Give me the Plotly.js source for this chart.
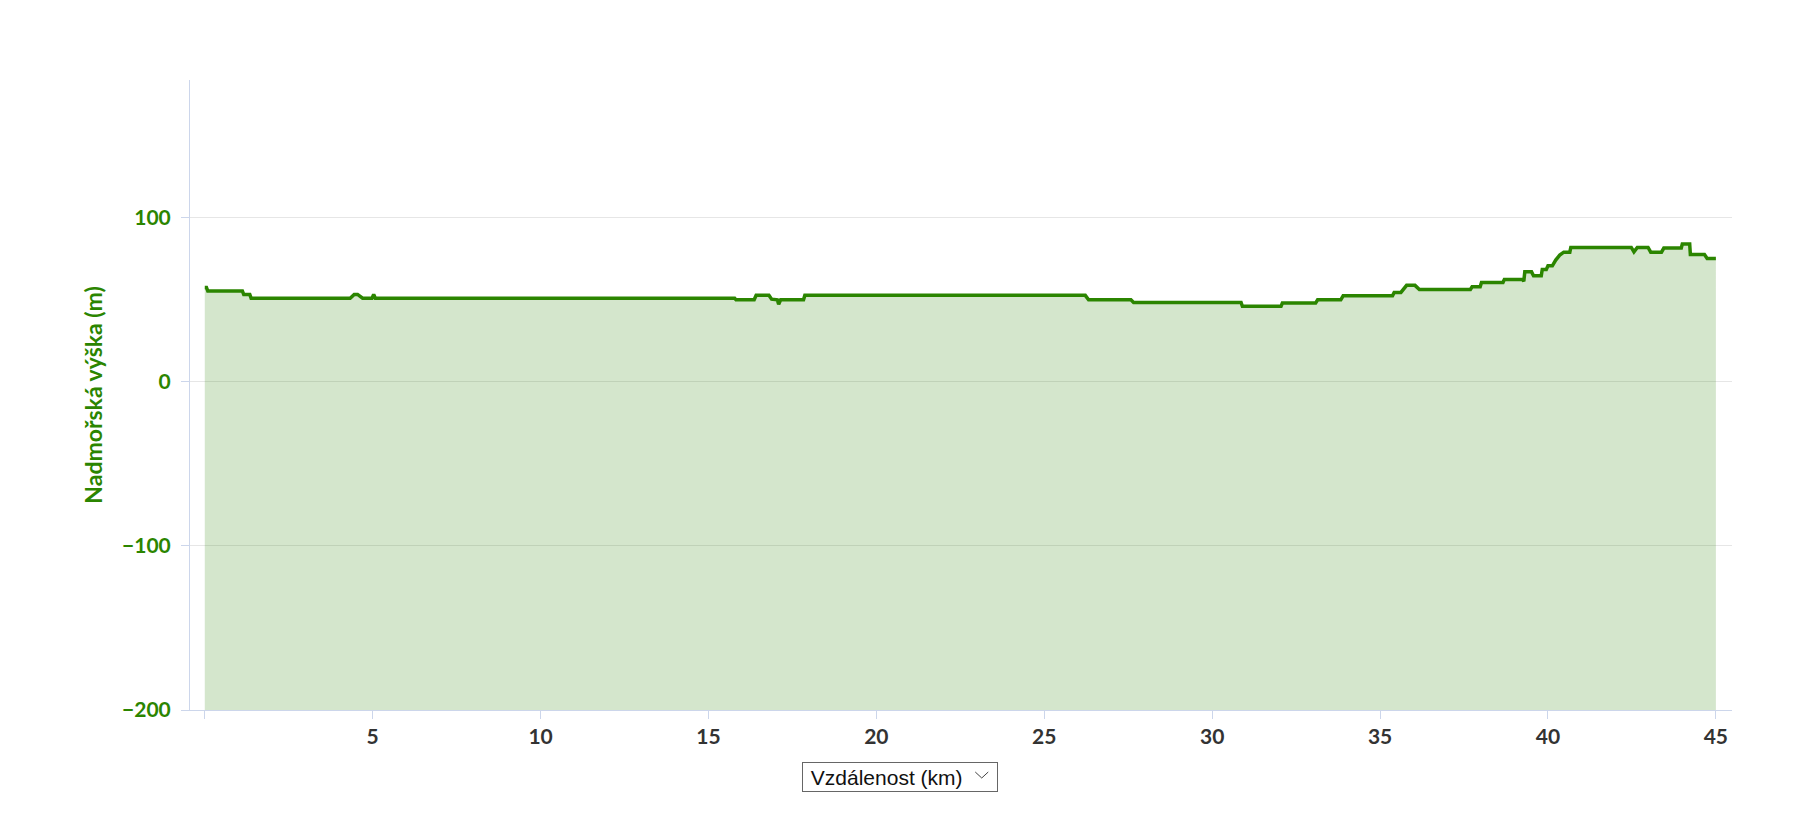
<!DOCTYPE html>
<html>
<head>
<meta charset="utf-8">
<script src="https://cdn.plot.ly/plotly-3.0.1.min.js"></script>
<style>
  body { margin: 0; background: #fff; }
  #plot { width: 1801px; height: 827px; }
</style>
</head>
<body>
<div id="plot"></div>
<script>
// vzdalenost (km) a nadmorska vyska (m) odectene z profilu
var distKm = [0.00, 0.05, 0.09, 1.12, 1.16, 1.34, 1.38, 4.33, 4.45, 4.55, 4.70, 4.98, 5.03, 5.08,
  15.78, 15.82, 16.36, 16.42, 16.80, 16.88, 17.05, 17.09, 17.15, 17.83, 17.87,
  26.22, 26.32, 27.58, 27.66, 30.86, 30.90, 32.05, 32.09, 33.08, 33.14, 33.83, 33.90,
  35.37, 35.42, 35.62, 35.79, 36.04, 36.17, 37.69, 37.74, 37.98, 38.02, 38.66, 38.70,
  39.24, 39.28, 39.31, 39.51, 39.57, 39.80, 39.83, 39.95, 40.00, 40.13, 40.23, 40.35,
  40.47, 40.65, 40.68, 42.48, 42.56, 42.66, 42.98, 43.06, 43.38, 43.45, 43.97, 44.00,
  44.22, 44.24, 44.66, 44.74, 45.00];
var elevM = [57.2, 57.2, 55.0, 55.0, 53.0, 53.0, 50.7, 50.7, 53.0, 53.0, 50.7, 50.7, 53.0, 50.7,
  50.7, 49.7, 49.7, 52.5, 52.5, 50.1, 49.7, 47.0, 49.7, 49.7, 52.4,
  52.4, 49.7, 49.7, 48.1, 48.1, 45.7, 45.7, 47.7, 47.7, 49.7, 49.7, 52.1,
  52.1, 54.2, 54.2, 58.5, 58.5, 56.0, 56.0, 57.6, 57.6, 60.3, 60.3, 62.1,
  62.1, 61.0, 66.7, 66.7, 64.3, 64.3, 68.2, 68.2, 70.4, 70.4, 73.9, 76.9,
  78.7, 78.7, 81.6, 81.6, 78.9, 81.6, 81.6, 78.7, 78.7, 81.2, 81.2, 83.6,
  83.6, 77.3, 77.3, 74.9, 74.9];

var yTicks = [-200, -100, 0, 100];
var xTicks = [0, 5, 10, 15, 20, 25, 30, 35, 40, 45];
var xTickText = ['', '5', '10', '15', '20', '25', '30', '35', '40', '45'];

var green = '#2b8500';
var axisBlue = '#ccd6eb';

// spodni hrana vyplne = spodek osy
var base = {
  x: [distKm[0], distKm[distKm.length - 1]],
  y: [yTicks[0], yTicks[0]],
  mode: 'lines',
  line: { width: 0 },
  hoverinfo: 'skip',
  showlegend: false
};

var profile = {
  x: distKm,
  y: elevM,
  mode: 'lines',
  fill: 'tonexty',
  fillcolor: 'rgba(40,130,0,0.2)',
  line: { color: green, width: 3.5 },
  showlegend: false
};

var layout = {
  width: 1801,
  height: 827,
  margin: { l: 190, r: 69, t: 80, b: 117 },
  paper_bgcolor: '#fff',
  plot_bgcolor: '#fff',
  font: { family: 'Lato, sans-serif' },
  xaxis: {
    range: [-0.44, 45.48],
    tickvals: xTicks,
    ticktext: xTickText,
    showgrid: false,
    zeroline: false,
    showline: true,
    linecolor: axisBlue,
    linewidth: 1,
    ticks: 'outside',
    ticklen: 8,
    tickcolor: axisBlue,
    tickfont: { family: 'Lato, sans-serif', size: 21, color: '#333', weight: 'bold' }
  },
  yaxis: {
    range: [-200, 183.5],
    tickvals: yTicks,
    showgrid: true,
    gridcolor: '#e6e6e6',
    zeroline: false,
    showline: true,
    linecolor: axisBlue,
    linewidth: 1,
    ticks: 'outside',
    ticklen: 8,
    tickcolor: axisBlue,
    ticklabelstandoff: 6,
    tickfont: { family: 'Lato, sans-serif', size: 21, color: green, weight: 'bold' },
    title: {
      text: 'Nadmořská výška (m)',
      standoff: 13,
      font: { family: 'Lato, sans-serif', size: 23, color: green, weight: 'bold' }
    }
  },
  annotations: [{
    xref: 'paper', yref: 'paper',
    x: 0.4606, y: -0.1063,
    xanchor: 'center', yanchor: 'middle',
    showarrow: false,
    text: '&nbsp;Vzdálenost (km)',
    align: 'left',
    width: 190,
    height: 24,
    font: { family: 'Liberation Sans, Arial, sans-serif', size: 21, color: '#111' },
    bgcolor: 'rgba(0,0,0,0)',
    bordercolor: '#666',
    borderwidth: 1,
    borderpad: 2
  }],
  // sipka rozbalovaciho menu
  shapes: [{
    type: 'path',
    xref: 'paper', yref: 'paper',
    layer: 'above',
    path: 'M 0.50924 -0.09841 L 0.51345 -0.10794 L 0.51767 -0.09841',
    line: { color: '#444', width: 1 }
  }]
};

Plotly.newPlot('plot', [base, profile], layout, { displayModeBar: false, staticPlot: true });
</script>
</body>
</html>
